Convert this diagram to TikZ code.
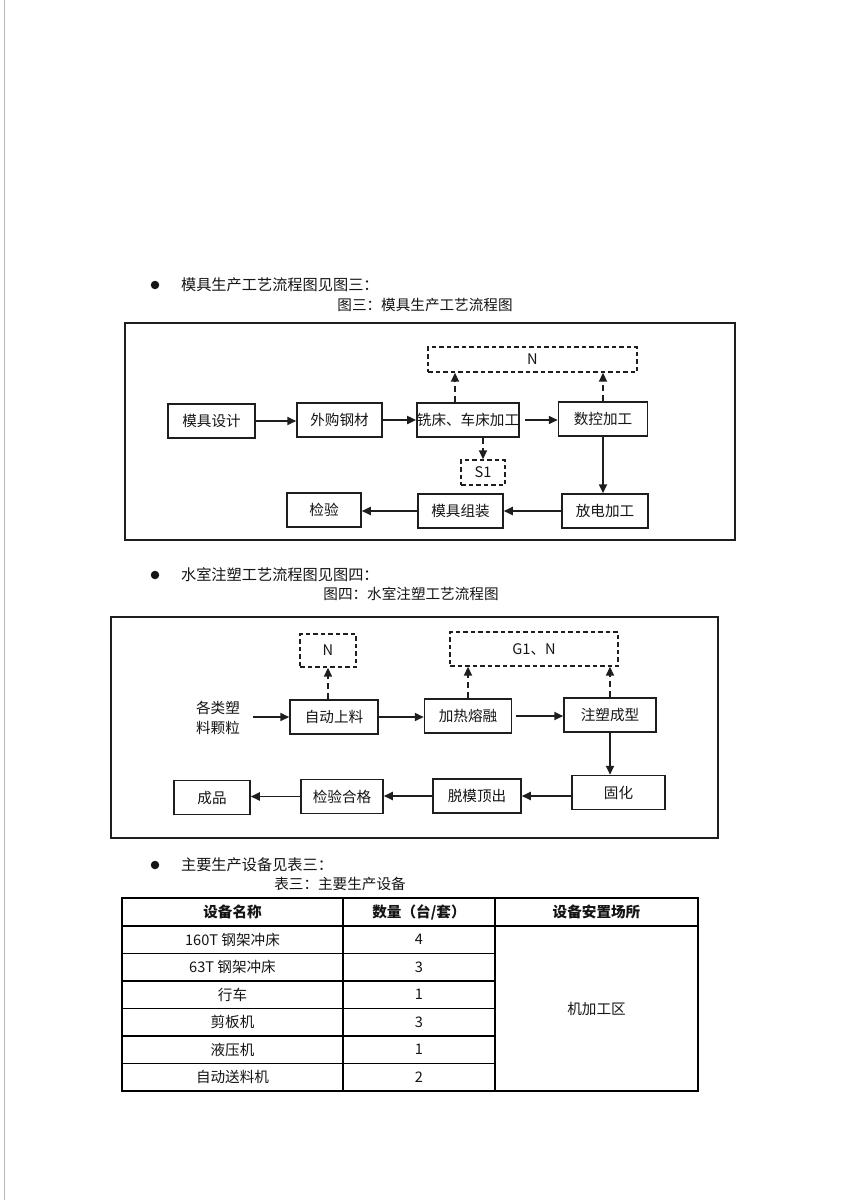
\documentclass[tikz,border=0pt]{standalone}
\usepackage{fontspec}
\setmainfont{Noto Sans CJK SC}
\usetikzlibrary{arrows.meta, positioning, calc}
\definecolor{cink}{HTML}{151515}
\definecolor{cline}{HTML}{1E1E1E}
\definecolor{cscan}{HTML}{B8B8B8}
\tikzset{
  every picture/.style={x=1pt, y=-1pt, line width=1.5pt},
  every node/.style={text=cink, font=\fontsize{14.6}{17}\selectfont},
  box/.style={draw=cline, rectangle, line width=1.5pt, inner sep=0pt, minimum height=34pt, minimum width=#1},
  box/.default=86pt,
  dbox/.style={draw=cline, dashed, dash pattern=on 4.5pt off 3pt, line width=1.4pt, inner sep=0pt, minimum width=#1},
  arr/.style={-{Triangle[length=9pt, width=8pt]}, draw=cline, line width=1.8pt},
  darr/.style={arr, dash pattern=on 6pt off 4pt},
  frame/.style={draw=cline, line width=1.8pt},
  bul/.style={circle, fill=cink, inner sep=0pt, minimum size=8.5pt},
  head/.style={anchor=west, font=\fontsize{15.2}{18}\selectfont},
}

\begin{document}
\begin{tikzpicture}
  \useasboundingbox (0,0) rectangle (864,1200);
  \fill[white] (0,0) rectangle (864,1200);
  \draw[cscan, line width=1pt] (4,0) -- (4,1200);
  % figure 3: mould production
  \node[bul] (b1) at (155,285) {};
  \node[head] (h1) at (177,285) {模具生产工艺流程图见图三：};
  \node (c1) at (425,305) {图三：模具生产工艺流程图};
  \draw[frame] (125,323) rectangle (735,540);
  \node[dbox=209pt, minimum height=25pt] (n1) at (532.5,359.5) {N};
  \node[dbox=44pt, minimum height=25pt] (s1) at (483,472.5) {S1};
  \node[box=87pt] (md) at (211.5,421) {模具设计};
  \node[box=85pt] (wg) at (339.5,420) {外购钢材};
  \node[box=100pt] (xc) at (468,420) {铣床、车床加工};
  \node[box=89pt] (sk) at (603,419) {数控加工};
  \node[box=86pt] (fd) at (605,511) {放电加工};
  \node[box=85pt] (mz) at (460.5,511) {模具组装};
  \node[box=74pt] (jy) at (324,510) {检验};
  \draw[arr] (md.east) -- (md.east -| wg.west);
  \draw[arr] (wg.east) -- (wg.east -| xc.west);
  \draw[arr] ([xshift=5pt]xc.east) -- (xc.east -| sk.west);
  \draw[darr] ([xshift=-13pt]xc.north) -- ([xshift=-13pt]xc.north |- n1.south);
  \draw[darr] (sk.north) -- (sk.north |- n1.south);
  \draw[darr] (xc.south -| s1.north) -- (s1.north);
  \draw[arr] (sk.south) -- (sk.south |- fd.north);
  \draw[arr] (fd.west) -- (fd.west -| mz.east);
  \draw[arr] (mz.west) -- (mz.west -| jy.east);
  % figure 4: water chamber injection moulding
  \node[bul] (b2) at (155,575) {};
  \node[head] (h2) at (177,575) {水室注塑工艺流程图见图四：};
  \node (c2) at (411,594) {图四：水室注塑工艺流程图};
  \draw[frame] (111,617) rectangle (718,838);
  \node[dbox=56pt, minimum height=33pt] (n2) at (328,650.5) {N};
  \node[dbox=168pt, minimum height=34pt] (g1) at (534,649) {G1、N};
  \node[align=center, font=\fontsize{14.6}{20}\selectfont] (src) at (218,718) {各类塑\\料颗粒};
  \node[box=88pt] (zd) at (334,717) {自动上料};
  \node[box=87pt] (jr) at (468,716) {加热熔融};
  \node[box=92pt] (zs) at (610,715) {注塑成型};
  \node[box=93pt] (gh) at (618.5,792.5) {固化};
  \node[box=88pt] (tm) at (477,796) {脱模顶出};
  \node[box=82pt] (hg) at (342,796.5) {检验合格};
  \node[box=76pt] (cp) at (212,797.5) {成品};
  \draw[arr] ([xshift=9pt]src.east |- zd.west) -- (zd.west);
  \draw[arr] (zd.east) -- (zd.east -| jr.west);
  \draw[arr] ([xshift=4pt]jr.east) -- (jr.east -| zs.west);
  \draw[darr] (zd.north -| n2.south) -- (n2.south);
  \draw[darr] (jr.north) -- (jr.north |- g1.south);
  \draw[darr] (zs.north) -- (zs.north |- g1.south);
  \draw[arr] (zs.south) -- (zs.south |- gh.north);
  \draw[arr] (gh.west |- tm.east) -- (tm.east);
  \draw[arr] (tm.west) -- (tm.west -| hg.east);
  \draw[arr] (hg.west) -- (hg.west -| cp.east);
  % table 3: main equipment
  \node[bul] (b3) at (155,865) {};
  \node[head] (h3) at (177,865) {主要生产设备见表三：};
  \node (c3) at (340,884) {表三：主要生产设备};
  \draw[line width=1.8pt] (122,898) rectangle (698,1091);
  \draw[line width=1.4pt] (122,926) -- (698,926);
  \draw[line width=1.4pt] (343,898) -- (343,1091) (495,898) -- (495,1091);
  \foreach \y in {953.5,981,1008.5,1036,1063.5}
    \draw[line width=1.3pt] (122,\y) -- (495,\y);
  \node[font=\fontsize{14.6}{17}\bfseries] (th1) at (232.5,912) {设备名称};
  \node[font=\fontsize{14.6}{17}\bfseries] (th2) at (419,912) {数量（台/套）};
  \node[font=\fontsize{14.6}{17}\bfseries] (th3) at (596.5,912) {设备安置场所};
  \foreach \name/\num [count=\i] in {160T 钢架冲床/4, 63T 钢架冲床/3, 行车/1, 剪板机/3, 液压机/1, 自动送料机/2} {
    \node (ta\i) at (232.5,912.25+27.5*\i) {\name};
    \node (tb\i) at (419,912.25+27.5*\i) {\num};
  }
  \node (tc) at (596.5,1008.5) {机加工区};
\end{tikzpicture}
\end{document}
